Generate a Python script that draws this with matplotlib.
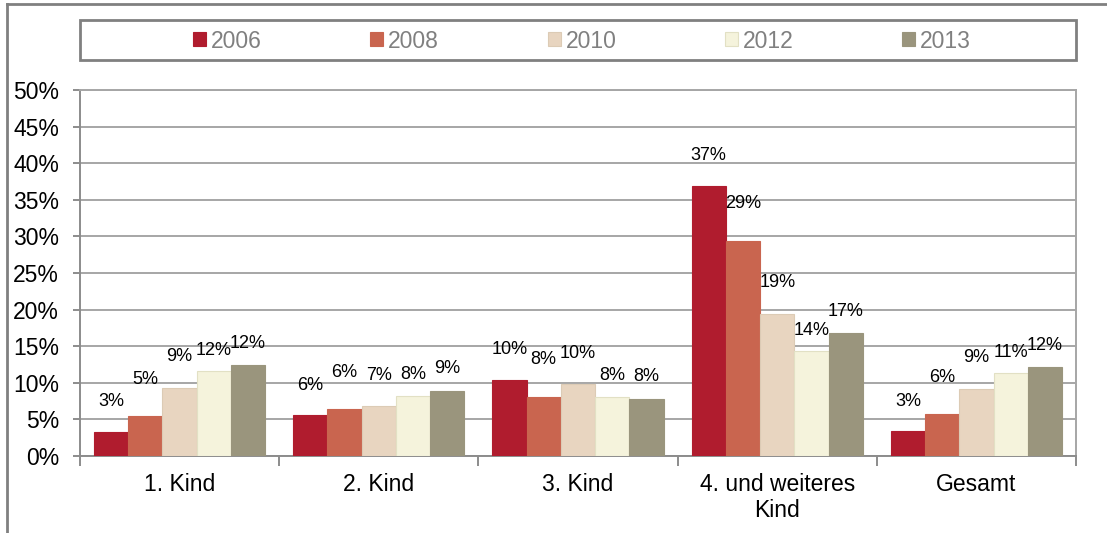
import matplotlib
matplotlib.use("Agg")
import matplotlib.pyplot as plt
from matplotlib.lines import Line2D
from matplotlib.patches import Rectangle
import numpy as np

plt.rcParams['font.family'] = ['Liberation Sans', 'DejaVu Sans']

categories = ["1. Kind", "2. Kind", "3. Kind", "4. und weiteres\nKind", "Gesamt"]
years = ["2006", "2008", "2010", "2012", "2013"]
v2006 = [3.3, 5.6, 10.4, 36.9, 3.4]
v2008 = [5.4, 6.4, 8.1, 29.4, 5.7]
v2010 = [9.3, 6.8, 9.8, 19.4, 9.2]
v2012 = [11.6, 8.2, 8.1, 14.3, 11.3]
v2013 = [12.4, 8.9, 7.8, 16.8, 12.1]
series = [v2006, v2008, v2010, v2012, v2013]

colors = ["#B01C2E", "#C9654F", "#E8D5C0", "#F5F3DC", "#9A957D"]
edges = ["#B01C2E", "#C9654F", "#DCCBB5", "#E2E0C4", "#9A957D"]
# label offsets above bar top (pixels), per series
lab_off = [30, 37, 31, 21, 22]

fig = plt.figure(figsize=(11.07, 5.33), dpi=100)
ax = fig.add_axes([80/1107, 1-456/533, 996/1107, 366/533])

x = np.arange(len(categories))
w = 0.86 / 5
for i, vals in enumerate(series):
    pos = x - 0.43 + w * (i + 0.5)
    ax.bar(pos, vals, width=w, color=colors[i], edgecolor=edges[i],
           linewidth=0.8, label=years[i], zorder=3)
    for px, v in zip(pos, vals):
        ax.annotate(f"{v:.0f}%", (px, v), xytext=(0, lab_off[i]),
                    textcoords="offset pixels", ha="center", va="center",
                    fontsize=13, color="black", zorder=4)

ax.set_xlim(-0.5, len(categories) - 0.5)
ax.set_ylim(0, 50)
ax.set_yticks(np.arange(0, 51, 5))
ax.set_yticklabels([f"{t}%" for t in range(0, 51, 5)])
ax.yaxis.grid(True, color="#A6A6A6", linewidth=1.4, zorder=0)
ax.set_xticks(x)
ax.set_xticklabels(categories)
ax.set_xticks(np.arange(-0.5, len(categories)), minor=True)
ax.tick_params(axis="x", which="major", length=0, pad=12, labelsize=16.5)
ax.tick_params(axis="x", which="minor", length=7, width=1.4, color="#8C8C8C")
ax.tick_params(axis="y", length=5, width=1.4, color="#8C8C8C", pad=10,
               labelsize=16.5)
for s in ax.spines.values():
    s.set_color("#8C8C8C")
    s.set_linewidth(1.4)
ax.spines["top"].set_color("#A6A6A6")
ax.spines["right"].set_color("#A6A6A6")

# legend box
fig.add_artist(Rectangle((80/1107, 1-60/533), 996/1107, 40/533,
                         transform=fig.transFigure, fill=False,
                         edgecolor="#808080", linewidth=2))
handles, labels = ax.get_legend_handles_labels()
leg = fig.legend(handles, labels, loc="center", ncol=5,
                 bbox_to_anchor=(582/1107, 1-41/533), frameon=False,
                 fontsize=16.5, handlelength=0.57, handleheight=0.57,
                 handletextpad=0.2, columnspacing=4.75, borderpad=0)
for t in leg.get_texts():
    t.set_color("#808080")

# outer frame (top and left only visible)
fig.add_artist(Line2D([7/1107, 1], [1-4/533, 1-4/533], transform=fig.transFigure,
                      color="#808080", linewidth=2))
fig.add_artist(Line2D([7/1107, 7/1107], [0, 1-4/533], transform=fig.transFigure,
                      color="#808080", linewidth=2))

fig.savefig("out.png", dpi=100)
